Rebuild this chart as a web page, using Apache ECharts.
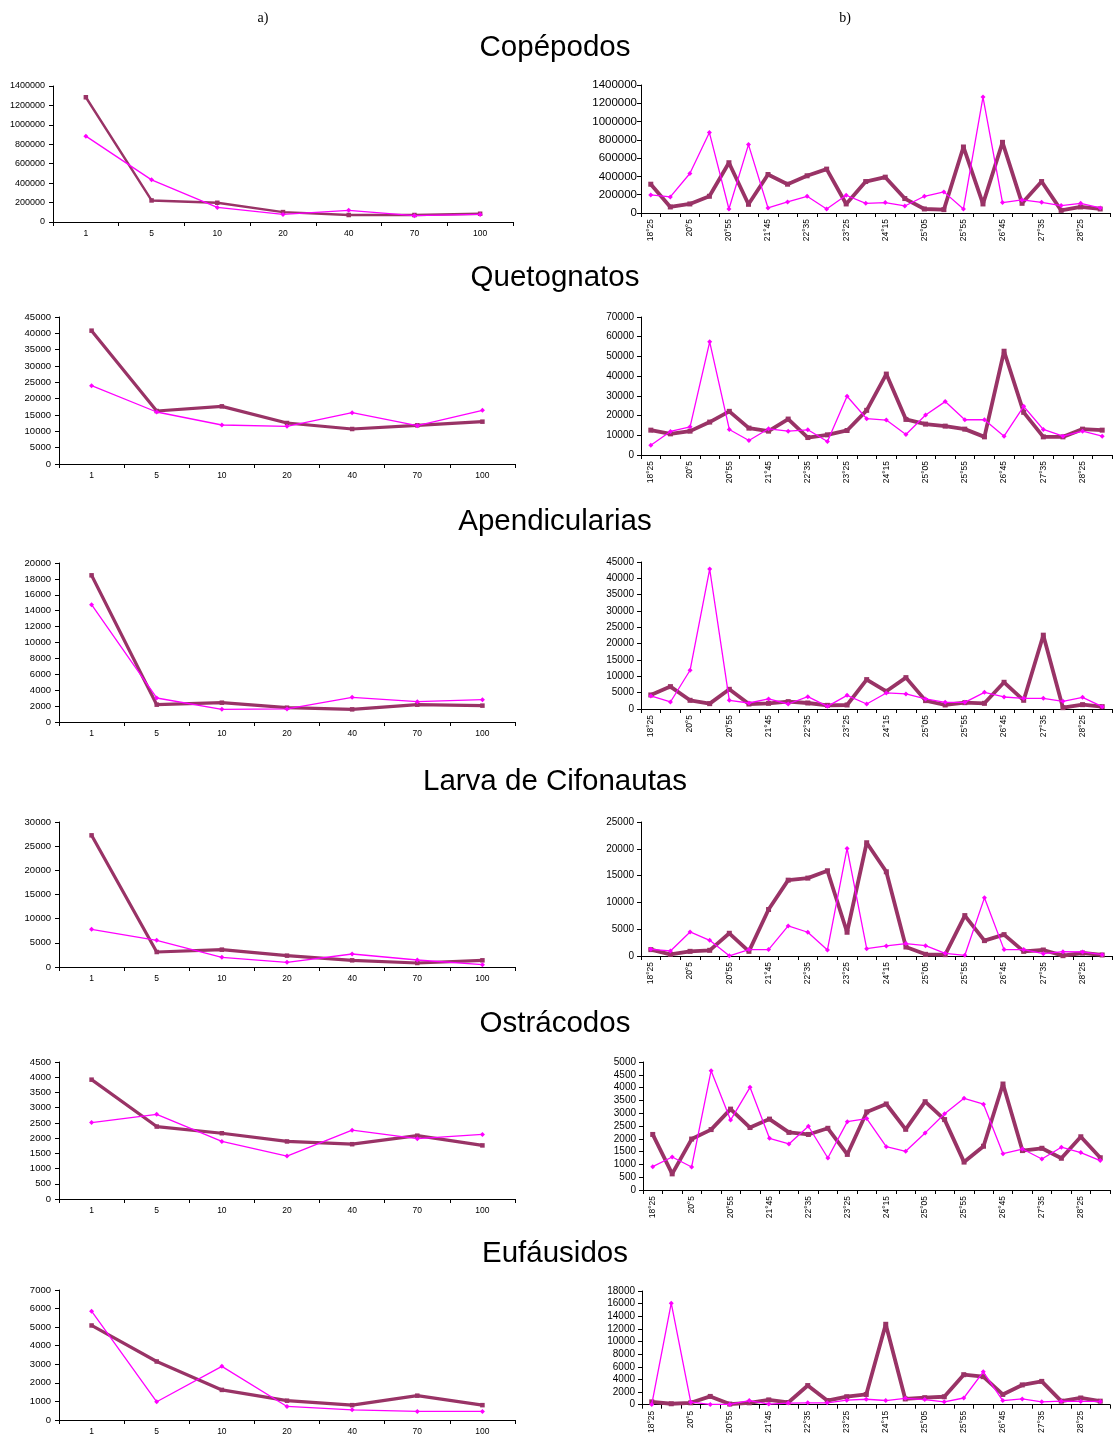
<!DOCTYPE html>
<html>
<head>
<meta charset="utf-8">
<script src="https://cdn.jsdelivr.net/npm/echarts@6/dist/echarts.min.js"></script>
<style>
html, body { margin: 0; padding: 0; background: #fff; }
#chart { width: 1115px; height: 1436px; }
</style>
</head>
<body>
<div id="chart"></div>
<script>
// Category axes
const depthCats = ['1', '5', '10', '20', '40', '70', '100'];
const latCats = ['18°25', '19°15', '20°5', '20°30', '20°55', '21°20', '21°45', '22°10',
  '22°35', '23°00', '23°25', '23°50', '24°15', '24°40', '25°05', '25°30',
  '25°55', '26°20', '26°45', '27°10', '27°35', '28°00', '28°25', '28°50'];

// Copépodos
const copDepthPink = [884000, 434000, 150000, 78000, 120000, 65000, 78000];
const copDepthPurple = [1284000, 222000, 198000, 102000, 72000, 72000, 85000];
const copLatPink = [198000, 176000, 432000, 880000, 44000, 748000, 55000, 121000, 183000, 44000, 194000, 106000,
  114000, 77000, 183000, 231000, 44000, 1268000, 114000, 143000, 117000, 81000, 106000, 55000];
const copLatPurple = [315000, 66000, 99000, 183000, 550000, 95000, 421000, 315000, 407000, 480000, 99000, 344000,
  392000, 158000, 44000, 37000, 722000, 99000, 773000, 106000, 344000, 29000, 66000, 44000];

// Quetognatos
const queDepthPink = [23980, 15920, 11940, 11530, 15710, 11740, 16430];
const queDepthPurple = [40820, 16220, 17650, 12550, 10710, 11840, 12960];
const queLatPink = [4940, 11930, 14310, 57400, 12950, 7330, 13290, 12100, 12780, 6820, 29810, 18400,
  17720, 10390, 20270, 27090, 17890, 17890, 9540, 24700, 12950, 9540, 12100, 9540];
const queLatPurple = [12600, 10730, 12100, 16700, 22150, 13630, 12100, 18230, 8860, 10220, 12440, 22660,
  41050, 18060, 15670, 14650, 13120, 9200, 52640, 21640, 9200, 9200, 13120, 12600];

// Apendicularias
const apeDepthPink = [14760, 3020, 1590, 1640, 3100, 2560, 2810];
const apeDepthPurple = [18450, 2180, 2430, 1800, 1590, 2180, 2060];
const apeLatPink = [3990, 2150, 11860, 42850, 2660, 1840, 3070, 1530, 3780, 820, 4190, 1530,
  4910, 4600, 3070, 2050, 2050, 5110, 3680, 3270, 3270, 2350, 3580, 720];
const apeLatPurple = [4300, 6850, 2660, 1640, 6030, 1530, 1740, 2250, 1840, 1120, 1230, 9000,
  5420, 9610, 2560, 1230, 1940, 1740, 8180, 2660, 22600, 410, 1330, 720];

// Larva de Cifonautas
const larDepthPink = [7790, 5520, 2000, 970, 2690, 1450, 480];
const larDepthPurple = [27240, 3100, 3590, 2350, 1380, 830, 1380];
const larLatPink = [1250, 940, 4490, 2930, 40, 1190, 1190, 5610, 4430, 1120, 20070, 1370,
  1870, 2310, 1930, 500, 130, 10850, 1190, 1190, 440, 810, 750, 250];
const larLatPurple = [1190, 310, 870, 1060, 4240, 870, 8670, 14150, 14530, 15900, 4430, 21130,
  15710, 1680, 310, 250, 7540, 2870, 3990, 870, 1120, 60, 560, 190];

// Ostrácodos
const ostDepthPink = [2510, 2780, 1890, 1410, 2260, 1980, 2120];
const ostDepthPurple = [3920, 2380, 2160, 1890, 1800, 2080, 1760];
const ostLatPink = [910, 1290, 900, 4660, 2730, 4010, 2020, 1800, 2490, 1250, 2670, 2790,
  1690, 1510, 2230, 2980, 3580, 3350, 1420, 1600, 1210, 1670, 1460, 1150];
const ostLatPurple = [2170, 630, 1990, 2360, 3160, 2440, 2770, 2250, 2170, 2410, 1390, 3050,
  3360, 2370, 3450, 2750, 1090, 1710, 4140, 1540, 1630, 1240, 2080, 1260];

// Eufáusidos
const eufDepthPink = [5860, 980, 2890, 730, 550, 460, 460];
const eufDepthPurple = [5090, 3150, 1620, 1040, 800, 1310, 800];
const eufLatPink = [50, 16080, 400, 50, 50, 660, 100, 250, 300, 300, 710, 860,
  660, 1010, 810, 450, 1060, 5210, 660, 910, 450, 560, 510, 510];
const eufLatPurple = [450, 150, 300, 1310, 100, 300, 760, 350, 3030, 660, 1260, 1620,
  12730, 910, 1110, 1260, 4750, 4440, 1620, 3130, 3690, 560, 1060, 560];

const PINK = '#FF00FF';
const PURPLE = '#993366';
const AXIS = '#000000';

// One row per taxon: depth profile on the left, latitudinal profile on the right
const panels = [
  { title: 'Copépodos', titleY: 48,
    depth: { pink: copDepthPink, purple: copDepthPurple, max: 1400000, step: 200000, purpleWidth: 2.4,
      labelSize: 9, labelMargin: 8,
      box: { left: 53, top: 86, width: 460, height: 136 } },
    lat: { pink: copLatPink, purple: copLatPurple, max: 1400000, step: 200000,
      labelSize: 11.5, labelMargin: 4,
      box: { left: 641, top: 85, width: 469, height: 128 } } },
  { title: 'Quetognatos', titleY: 278,
    depth: { pink: queDepthPink, purple: queDepthPurple, max: 45000, step: 5000, purpleWidth: 3.2,
      labelSize: 9.5, labelMargin: 8,
      box: { left: 59, top: 317, width: 456, height: 147 } },
    lat: { pink: queLatPink, purple: queLatPurple, max: 70000, step: 10000,
      labelSize: 10, labelMargin: 7,
      box: { left: 641, top: 317, width: 471, height: 138 } } },
  { title: 'Apendicularias', titleY: 522,
    depth: { pink: apeDepthPink, purple: apeDepthPurple, max: 20000, step: 2000, purpleWidth: 3.2,
      labelSize: 9.5, labelMargin: 8,
      box: { left: 59, top: 563, width: 456, height: 159 } },
    lat: { pink: apeLatPink, purple: apeLatPurple, max: 45000, step: 5000,
      labelSize: 10, labelMargin: 7,
      box: { left: 641, top: 562, width: 471, height: 147 } } },
  { title: 'Larva de Cifonautas', titleY: 782,
    depth: { pink: larDepthPink, purple: larDepthPurple, max: 30000, step: 5000, purpleWidth: 3.2,
      labelSize: 9.5, labelMargin: 8,
      box: { left: 59, top: 822, width: 456, height: 145 } },
    lat: { pink: larLatPink, purple: larLatPurple, max: 25000, step: 5000,
      labelSize: 10, labelMargin: 7,
      box: { left: 641, top: 822, width: 471, height: 134 } } },
  { title: 'Ostrácodos', titleY: 1024,
    depth: { pink: ostDepthPink, purple: ostDepthPurple, max: 4500, step: 500, purpleWidth: 3.2,
      labelSize: 9.5, labelMargin: 8,
      box: { left: 59, top: 1062, width: 456, height: 137 } },
    lat: { pink: ostLatPink, purple: ostLatPurple, max: 5000, step: 500,
      labelSize: 10, labelMargin: 7,
      box: { left: 643, top: 1062, width: 467, height: 128 } } },
  { title: 'Eufáusidos', titleY: 1254,
    depth: { pink: eufDepthPink, purple: eufDepthPurple, max: 7000, step: 1000, purpleWidth: 3.2,
      labelSize: 9.5, labelMargin: 8,
      box: { left: 59, top: 1290, width: 456, height: 130 } },
    lat: { pink: eufLatPink, purple: eufLatPurple, max: 18000, step: 2000,
      labelSize: 10, labelMargin: 7,
      box: { left: 642, top: 1291, width: 468, height: 118 } } }
];

const grid = [], xAxis = [], yAxis = [], series = [];
const serifFont = '14px "Liberation Serif", "Times New Roman", serif';
const graphic = [
  { type: 'text', x: 263, y: 18, style: { text: 'a)', font: serifFont, fill: '#000',
      textAlign: 'center', textVerticalAlign: 'middle', align: 'center', verticalAlign: 'middle' } },
  { type: 'text', x: 845, y: 18, style: { text: 'b)', font: serifFont, fill: '#000',
      textAlign: 'center', textVerticalAlign: 'middle', align: 'center', verticalAlign: 'middle' } }
];

function addPanel(cfg, cats, isLat) {
  const idx = grid.length;
  grid.push(Object.assign({ containLabel: false }, cfg.box));
  xAxis.push({
    type: 'category', gridIndex: idx, data: cats, boundaryGap: true,
    axisLine: { lineStyle: { color: AXIS, width: 1 } },
    axisTick: { show: true, interval: 0, length: 4, lineStyle: { color: AXIS } },
    axisLabel: isLat
      ? { interval: 1, rotate: 90, fontSize: 8.5, margin: 6, color: AXIS, fontFamily: 'Liberation Sans' }
      : { interval: 0, fontSize: 8.5, margin: 7, color: AXIS, fontFamily: 'Liberation Sans' },
    splitLine: { show: false }
  });
  yAxis.push({
    type: 'value', gridIndex: idx, min: 0, max: cfg.max, interval: cfg.step,
    axisLine: { show: true, lineStyle: { color: AXIS, width: 1 } },
    axisTick: { show: true, length: 4, lineStyle: { color: AXIS } },
    axisLabel: { fontSize: cfg.labelSize, margin: cfg.labelMargin, color: AXIS, fontFamily: 'Liberation Sans',
      formatter: v => String(v) },
    splitLine: { show: false }
  });
  series.push({
    type: 'line', xAxisIndex: idx, yAxisIndex: idx, data: cfg.purple,
    symbol: 'rect', symbolSize: isLat ? 5 : 4.5, showSymbol: true,
    lineStyle: { color: PURPLE, width: isLat ? 3.8 : cfg.purpleWidth },
    itemStyle: { color: PURPLE }, animation: false, z: 2
  });
  series.push({
    type: 'line', xAxisIndex: idx, yAxisIndex: idx, data: cfg.pink,
    symbol: 'diamond', symbolSize: 5, showSymbol: true,
    lineStyle: { color: PINK, width: 1.3 },
    itemStyle: { color: PINK }, animation: false, z: 3
  });
}

panels.forEach(p => {
  graphic.push({
    type: 'text', x: 555, y: p.titleY,
    style: { text: p.title, font: '29.5px "Liberation Sans", Arial, sans-serif', fill: '#000',
      textAlign: 'center', textVerticalAlign: 'middle', align: 'center', verticalAlign: 'middle' }
  });
  addPanel(p.depth, depthCats, false);
  addPanel(p.lat, latCats, true);
});

const chart = echarts.init(document.getElementById('chart'), null, { renderer: 'canvas' });
chart.setOption({
  backgroundColor: '#fff',
  animation: false,
  grid, xAxis, yAxis, series, graphic
});
</script>
</body>
</html>
